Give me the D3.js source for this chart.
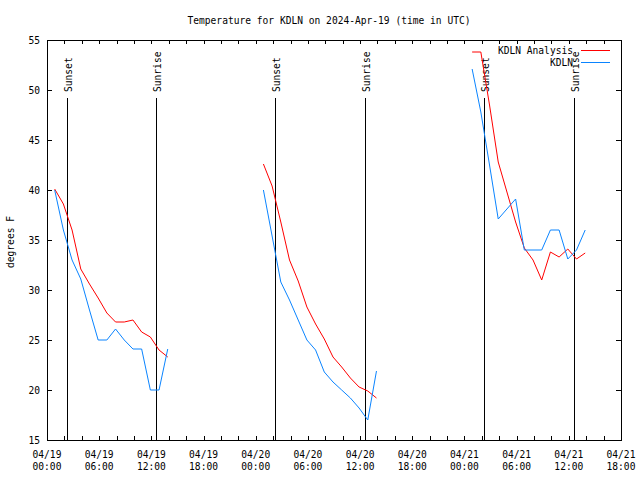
<!DOCTYPE html>
<html><head><meta charset="utf-8">
<script src="https://cdn.jsdelivr.net/npm/d3@7"></script>
<style>
body{margin:0;background:#fff;}
text{font-family:"DejaVu Sans Mono",monospace;font-size:9.6px;fill:#000;}
</style></head>
<body><svg id="c" width="640" height="480"></svg>
<script>
const titleText = "Temperature for KDLN on 2024-Apr-19 (time in UTC)";
const yLabel = "degrees F";
const seriesNames = ["KDLN Analysis", "KDLN"];
const seriesColors = ["#ff0000", "#0a84ff"];
const yTicks = [15, 20, 25, 30, 35, 40, 45, 50, 55];
const sunLabels = ["Sunset", "Sunrise", "Sunset", "Sunrise", "Sunset", "Sunrise"];
const sunTimes = ["2024-04-19T02:16Z", "2024-04-19T12:32Z", "2024-04-20T02:13Z",
                  "2024-04-20T12:34Z", "2024-04-21T02:17Z", "2024-04-21T12:37Z"];
const obsTimes = [
 "2024-04-19T00:53Z","2024-04-19T01:53Z","2024-04-19T02:53Z","2024-04-19T03:53Z","2024-04-19T04:53Z","2024-04-19T05:53Z","2024-04-19T06:53Z",
 "2024-04-19T07:53Z","2024-04-19T08:53Z","2024-04-19T09:53Z","2024-04-19T10:53Z","2024-04-19T11:53Z","2024-04-19T12:53Z","2024-04-19T13:53Z",
 "2024-04-20T00:53Z","2024-04-20T01:53Z","2024-04-20T02:53Z","2024-04-20T03:53Z","2024-04-20T04:53Z","2024-04-20T05:53Z","2024-04-20T06:53Z",
 "2024-04-20T07:53Z","2024-04-20T08:53Z","2024-04-20T09:53Z","2024-04-20T10:53Z","2024-04-20T11:53Z","2024-04-20T12:53Z","2024-04-20T13:53Z",
 "2024-04-21T00:53Z","2024-04-21T01:53Z","2024-04-21T02:53Z","2024-04-21T03:53Z","2024-04-21T04:53Z","2024-04-21T05:53Z","2024-04-21T06:53Z",
 "2024-04-21T07:53Z","2024-04-21T08:53Z","2024-04-21T09:53Z","2024-04-21T10:53Z","2024-04-21T11:53Z","2024-04-21T12:53Z","2024-04-21T13:53Z"];
const analysisTemps = [
 40.1, 38.6, 36.0, 32.1, 30.6, 29.2, 27.7, 26.8, 26.8, 27.0, 25.8, 25.3, 24.0, 23.3,
 42.6, 40.4, 36.8, 33.0, 30.9, 28.3, 26.6, 25.1, 23.3, 22.3, 21.2, 20.3, 19.9, 19.2,
 53.8, 53.8, 48.5, 42.8, 39.8, 36.8, 34.2, 33.0, 31.0, 33.8, 33.3, 34.1, 33.1, 33.7];
const observedTemps = [
 40.0, 36.0, 33.0, 31.1, 28.0, 25.0, 25.0, 26.1, 25.0, 24.1, 24.1, 20.0, 20.0, 24.1,
 40.0, 35.4, 30.8, 29.0, 27.0, 25.0, 24.0, 21.8, 20.8, 20.0, 19.2, 18.2, 17.0, 21.9,
 52.1, 47.8, 42.5, 37.1, 38.1, 39.1, 34.0, 34.0, 34.0, 36.0, 36.0, 33.1, 34.0, 36.0];
const xDomain = ["2024-04-19T00:00Z", "2024-04-21T18:00Z"];

const svg = d3.select("#c");
const L = 47, R = 621, T = 40, B = 440;
const x = d3.scaleUtc().domain(xDomain.map(d => new Date(d))).range([L, R]);
const y = d3.scaleLinear().domain([15, 55]).range([B, T]);

// title
svg.append("text").attr("x", 329).attr("y", 24).attr("text-anchor", "middle").text(titleText);

// x ticks (minor every 2h, labels every 6h)
const minor = x.ticks(d3.utcHour.every(2));
const major = x.ticks(d3.utcHour.every(6));
const tg = svg.append("g").attr("stroke", "#000").attr("shape-rendering", "crispEdges");
minor.forEach(t => {
  const px = Math.round(x(t)) + 0.5;
  tg.append("line").attr("x1", px).attr("x2", px).attr("y1", B).attr("y2", B - 4);
  tg.append("line").attr("x1", px).attr("x2", px).attr("y1", T).attr("y2", T + 4);
});
yTicks.forEach(v => {
  const py = Math.round(y(v)) + 0.5;
  tg.append("line").attr("x1", L).attr("x2", L + 5).attr("y1", py).attr("y2", py);
  tg.append("line").attr("x1", R).attr("x2", R - 5).attr("y1", py).attr("y2", py);
});
const fmtD = d3.utcFormat("%m/%d"), fmtH = d3.utcFormat("%H:%M");
major.forEach(t => {
  svg.append("text").attr("x", x(t)).attr("y", 458).attr("text-anchor", "middle").text(fmtD(t));
  svg.append("text").attr("x", x(t)).attr("y", 470).attr("text-anchor", "middle").text(fmtH(t));
});
yTicks.forEach(v => {
  svg.append("text").attr("x", 40).attr("y", y(v) + 3.5).attr("text-anchor", "end").text(v);
});
svg.append("text").attr("transform", "translate(14,242) rotate(-90)")
  .attr("text-anchor", "middle").text(yLabel);

// sun lines
sunTimes.forEach((s, i) => {
  const px = Math.round(x(new Date(s))) + 0.5;
  svg.append("line").attr("x1", px).attr("x2", px).attr("y1", 98).attr("y2", B)
    .attr("stroke", "#000").attr("shape-rendering", "crispEdges");
  svg.append("text").attr("transform", `translate(${px + 4.5},92) rotate(-90)`)
    .attr("text-anchor", "start").text(sunLabels[i]);
});

// data
const parsed = obsTimes.map(d => new Date(d));
function segments(vals) {
  const segs = []; let cur = [];
  parsed.forEach((t, i) => {
    if (cur.length && (t - cur[cur.length - 1][0]) > 3 * 3600e3) { segs.push(cur); cur = []; }
    cur.push([t, vals[i]]);
  });
  if (cur.length) segs.push(cur);
  return segs;
}
const line = d3.line().x(d => x(d[0])).y(d => y(d[1]));
[analysisTemps, observedTemps].forEach((vals, k) => {
  segments(vals).forEach(seg => {
    svg.append("path").attr("d", line(seg)).attr("fill", "none")
      .attr("stroke", seriesColors[k]).attr("stroke-width", 1);
  });
});

// legend
seriesNames.forEach((n, k) => {
  const ly = 50 + k * 12;
  svg.append("text").attr("x", 573).attr("y", ly + 4).attr("text-anchor", "end").text(n);
  svg.append("line").attr("x1", 581).attr("x2", 610).attr("y1", ly + 0.5).attr("y2", ly + 0.5)
    .attr("stroke", seriesColors[k]).attr("shape-rendering", "crispEdges");
});

// frame
svg.append("rect").attr("x", L + 0.5).attr("y", T + 0.5).attr("width", R - L).attr("height", B - T)
  .attr("fill", "none").attr("stroke", "#000").attr("shape-rendering", "crispEdges");
</script></body></html>
